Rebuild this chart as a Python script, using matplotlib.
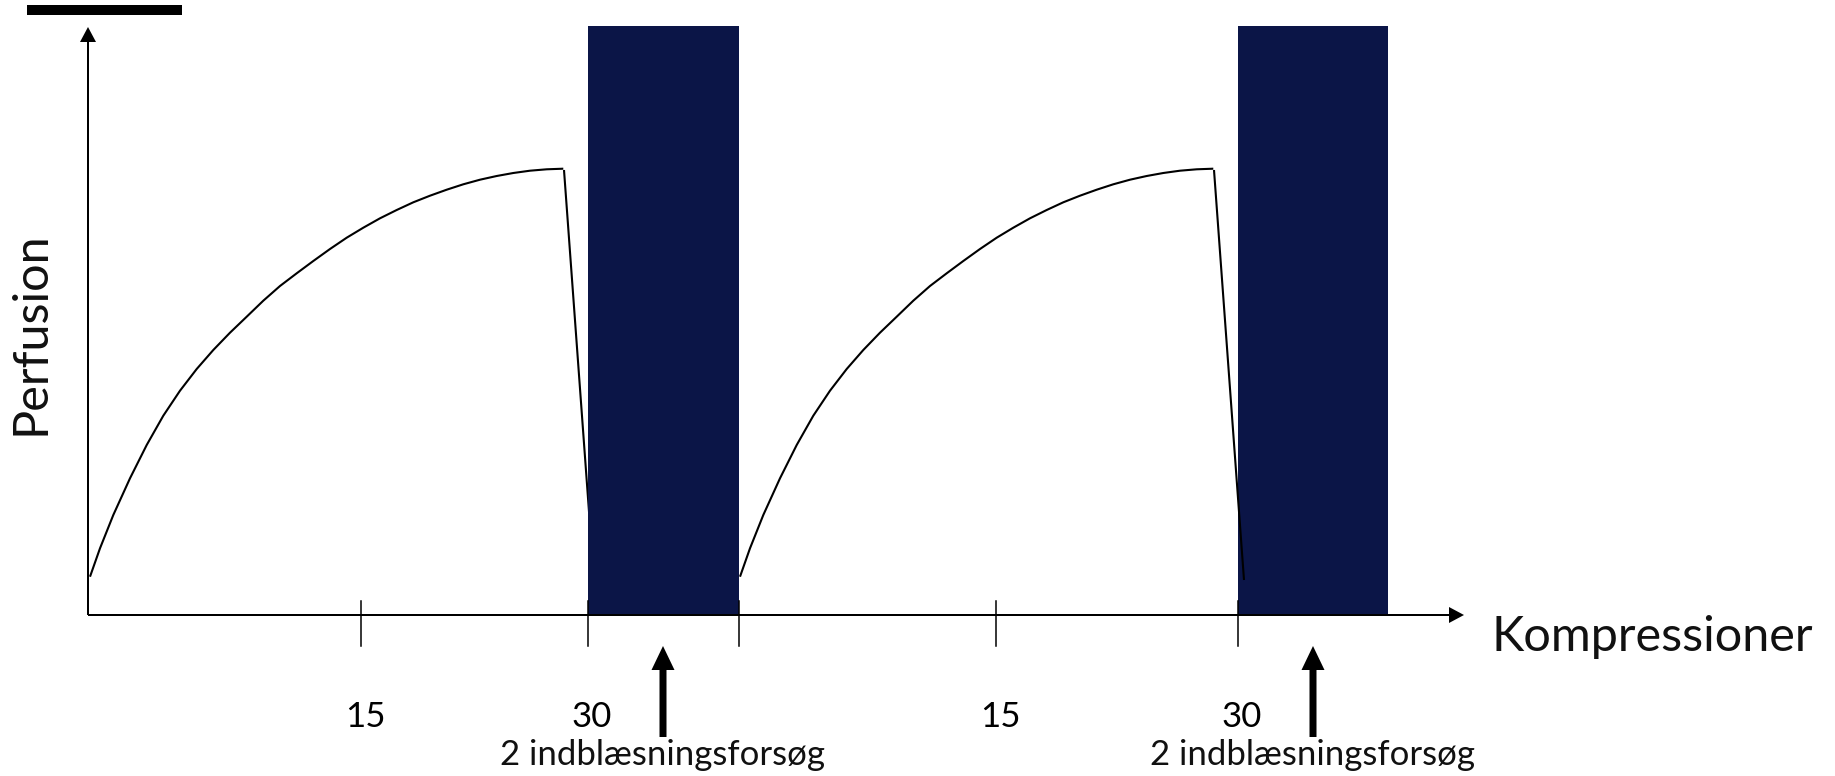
import matplotlib
matplotlib.use("Agg")
import matplotlib.pyplot as plt
from matplotlib.patches import Rectangle

plt.rcParams['font.family'] = ['Lato', 'DejaVu Sans']

# ---------------------------------------------------------------------------
# data (schematic units: 1 unit on both axes)
# ---------------------------------------------------------------------------
cycle_offsets = [0.0, 65.0]        # start of each compression cycle
# perfusion rise during one cycle of compressions
curve_x = [0.2, 1.2, 2.53, 4.2, 5.87, 7.53, 9.2, 10.87, 12.53, 14.2, 15.87,
           17.53, 19.2, 20.87, 22.53, 24.2, 25.87, 27.53, 29.2, 30.87,
           32.53, 34.2, 35.87, 37.53, 39.2, 40.87, 42.53, 44.2, 45.87, 47.53]
curve_y = [3.83, 6.67, 10.0, 13.67, 17.0, 19.93, 22.43, 24.6, 26.5, 28.23,
           29.83, 31.43, 32.9, 34.17, 35.4, 36.6, 37.73, 38.73, 39.67, 40.5,
           41.27, 41.93, 42.53, 43.07, 43.53, 43.9, 44.2, 44.43, 44.57, 44.63]
drop_x = [47.6, 50.6]              # fall when the compressions stop
drop_y = [44.5, 3.5]

bar_starts = [50.0, 115.0]         # ventilation pauses
bar_widths = [15.1, 15.0]
bar_height = 58.9

tick_pos = [27.3, 50.0, 65.1, 90.8, 115.0]
tick_labels = ["15", "30", "", "15", "30"]
vent_arrow_x = [57.5, 122.5]
vent_label = "2 indblæsningsforsøg"

x_end, y_end = 137.6, 58.8
bar_color = "#0b1547"

# ---------------------------------------------------------------------------
# figure
# ---------------------------------------------------------------------------
fig = plt.figure(figsize=(18.35, 7.76), dpi=100)
ax = fig.add_axes([0, 0, 1, 1])
ax.set_xlim(-8.8, 174.7)
ax.set_ylim(-16.1, 61.5)
ax.axis("off")

# thick bar at the top left
fig.add_artist(Rectangle((27 / 1835, 1 - 15 / 776), 155 / 1835, 10 / 776,
                         transform=fig.transFigure, color="black", lw=0))

# ventilation bars
ax.bar(bar_starts, [bar_height] * len(bar_starts), width=bar_widths,
       align="edge", color=bar_color, zorder=3)

# perfusion curves: first one goes behind the bar, second one over it
for i, off in enumerate(cycle_offsets):
    z = 2 if i == 0 else 4
    ax.plot([x + off for x in curve_x], curve_y, color="black", lw=1.5,
            zorder=z, solid_capstyle="butt", solid_joinstyle="round")
    ax.plot([x + off for x in drop_x], drop_y, color="black", lw=1.5,
            zorder=z, solid_capstyle="butt")

# axes with arrow heads
ax.arrow(0, 0, x_end, 0, width=0.2, head_width=1.6, head_length=1.5,
         length_includes_head=True, color="black", lw=0, zorder=5)
ax.arrow(0, 0, 0, y_end, width=0.2, head_width=1.6, head_length=1.5,
         length_includes_head=True, color="black", lw=0, zorder=5)

# ticks and labels
for pos, lab in zip(tick_pos, tick_labels):
    ax.plot([pos, pos], [1.4, -3.1], color="black", lw=1.1, zorder=5)
    if lab:
        ax.text(pos + 0.4, -11.2, lab, ha="center", va="baseline",
                fontsize=25, color="black")

# ventilation arrows
for ax_x in vent_arrow_x:
    ax.arrow(ax_x, -12.2, 0, 9.1, width=0.7, head_width=2.3, head_length=2.4,
             length_includes_head=True, color="black", lw=0, zorder=5)
    ax.text(ax_x, -15.0, vent_label, ha="center", va="baseline",
            fontsize=25, color="#111111")

ax.text(140.4, -3.6, "Kompressioner", ha="left", va="baseline",
        fontsize=35, color="#111111")
ax.text(-5.8, 28.2, "Perfusion", rotation=90, ha="center", va="center",
        fontsize=35, color="#111111")

fig.savefig("out.png", dpi=100)
